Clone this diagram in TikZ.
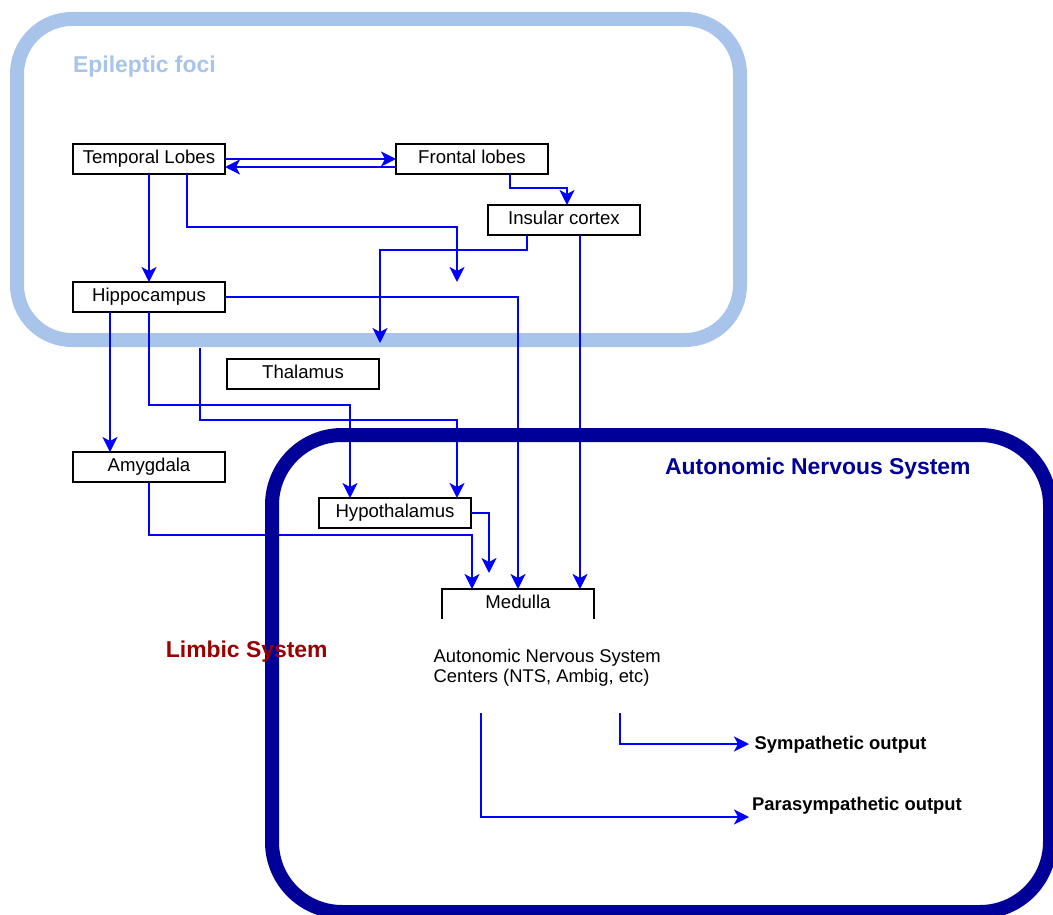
\documentclass[tikz,border=0pt]{standalone}
\usepackage{fontspec}
\setmainfont{Liberation Sans}
\usetikzlibrary{arrows.meta,calc}
\definecolor{lightframe}{HTML}{A9C4EB}
\definecolor{darkframe}{HTML}{000099}
\definecolor{arrowblue}{HTML}{0000FF}
\definecolor{limbicred}{HTML}{990000}
\begin{document}
\begin{tikzpicture}[x=1pt,y=-1pt,
  box/.style={draw=black, line width=2pt, fill=white, minimum width=152pt, minimum height=30pt,
    inner sep=0pt, outer sep=0pt, text height=13pt, text depth=4pt, font=\fontsize{18.6}{20}\selectfont},
  arr/.style={draw=arrowblue, line width=2pt, -{Stealth[length=15pt,width=15pt,inset=4pt]}},
  title/.style={font=\bfseries\fontsize{22.9}{26}\selectfont, anchor=base west, inner sep=0pt},
  outlab/.style={font=\bfseries\fontsize{18.4}{22}\selectfont, anchor=base west, inner sep=0pt},
  lightbox/.style={draw=lightframe, line width=14pt, rounded corners=55pt},
  darkbox/.style={draw=darkframe, line width=14pt, rounded corners=70pt}]
\clip (0,0) rectangle (1053,915);
\fill[white] (0,0) rectangle (1053,915);

% Epileptic foci frame
\draw[lightbox] (17,19) rectangle (740,340);

% boxes
\node[box] (temporal) at (149,159) {Temporal Lobes};
\node[box] (frontal) at (472,159) {Frontal lobes};
\node[box] (insular) at (564,220) {Insular cortex};
\node[box] (hippo) at (149,297) {Hippocampus};
\node[box] (thalamus) at (303,374) {Thalamus};
\node[box] (amygdala) at (149,467) {Amygdala};
\node[box] (hypo) at (395,513) {Hypothalamus};
\node[box, draw=none] (medulla) at (518,604) {Medulla};
\draw[line width=2pt] (medulla.south west) -- (medulla.north west) -- (medulla.north east) -- (medulla.south east);

% free ends
\coordinate (e1) at (457,282);
\coordinate (e2) at (380,343);
\coordinate (e3) at (489,573);
\coordinate (s1) at (200,348);
\coordinate (s2) at (620,713);
\coordinate (s3) at (481,713);
\coordinate (e5) at (749,744);
\coordinate (e4) at (749,817);

% connectors
\draw[arr] (temporal.east) -- (frontal.west);
\draw[arr] ([yshift=-8pt]frontal.west) -- ([yshift=-8pt]temporal.east);
\draw[arr] ([xshift=38pt]frontal.south) |- ([xshift=3pt,yshift=17pt]insular.north) -- ([xshift=3pt]insular.north);
\draw[arr] (temporal.south) -- (temporal.south |- hippo.north);
\draw[arr] ([xshift=38pt]temporal.south) |- ([yshift=55pt]e1) -- (e1);
\draw[arr] ([xshift=-37pt]insular.south) |- ([yshift=93pt]e2) -- (e2);
\draw[arr] ([xshift=16pt]insular.south) -- ([xshift=16pt]insular.south |- medulla.north);
\draw[arr] (hippo.east) -| (medulla.north);
\draw[arr] ([xshift=-39pt]hippo.south) -- ([xshift=-39pt]hippo.south |- amygdala.north);
\draw[arr] (hippo.south) |- ([xshift=-45pt,yshift=93pt]hypo.north) -- ([xshift=-45pt]hypo.north);
\draw[arr] (s1) |- ([xshift=62pt,yshift=78pt]hypo.north) -- ([xshift=62pt]hypo.north);
\draw[arr] (amygdala.south) |- ([xshift=-46pt,yshift=54pt]medulla.north) -- ([xshift=-46pt]medulla.north);
\draw[arr] (hypo.east) -| (e3);
\draw[arr] (s2) |- (e5);
\draw[arr] (s3) |- (e4);

% Autonomic Nervous System frame
\draw[darkbox] (272,435) rectangle (1050,912);

% texts
\node[title, text=lightframe] (epi) at (73,73) {Epileptic foci};
\node[title, text=darkframe] (ans) at (665,474.3) {Autonomic Nervous System};
\node[outlab] (symp) at (754.5,749) {Sympathetic output};
\node[outlab] (para) at (752,810) {Parasympathetic output};
\node[anchor=north west, inner sep=0pt, align=left, font=\fontsize{18.4}{20}\selectfont] (centers) at (433.5,648.5) {Autonomic Nervous System\\Centers (NTS, Ambig, etc)};
\node[title, text=limbicred] (limbic) at (165.7,657.7) {Limbic System};
\end{tikzpicture}
\end{document}
